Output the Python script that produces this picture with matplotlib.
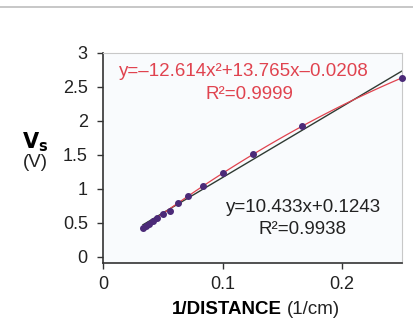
import numpy as np
import matplotlib
matplotlib.use("Agg")
import matplotlib.pyplot as plt

plt.rcParams['font.family'] = ['Liberation Sans', 'DejaVu Sans']

# 1/distance (1/cm) and measured Vs (V)
inv_dist = [0.0333, 0.0357, 0.0385, 0.0417, 0.0455, 0.0500, 0.0556,
            0.0625, 0.0714, 0.0833, 0.1000, 0.1250, 0.1667, 0.2500]
vs = [0.42, 0.45, 0.49, 0.53, 0.57, 0.63, 0.68,
      0.79, 0.90, 1.04, 1.23, 1.51, 1.92, 2.63]

# trendline coefficients
lin_coef = [10.433, 0.1243]
quad_coef = [-12.614, 13.765, -0.0208]

xticks = [0, 0.1, 0.2]
xticklabels = ['0', '0.1', '0.2']
yticks = [0, 0.5, 1, 1.5, 2, 2.5, 3]
yticklabels = ['0', '0.5', '1', '1.5', '2', '2.5', '3']

red = '#e0434f'
fs = 13.5
fig = plt.figure(figsize=(4.14, 3.2), dpi=100)
fig.add_artist(plt.Line2D([0, 1], [0.978, 0.978], color='#bdbdbd', lw=1.2))

ax = fig.add_axes([0.249, 0.178, 0.722, 0.657])
ax.set_facecolor('#f9fbfd')

xl = np.linspace(inv_dist[0], 0.25, 50)
ax.plot(xl, np.polyval(lin_coef, xl), color='#2f3a33', lw=1.0, zorder=2)
ax.plot(xl, np.polyval(quad_coef, xl), color=red, lw=0.9, zorder=3)
ax.plot(inv_dist, vs, 'o', color='#4b2a78', ms=4, zorder=4, clip_on=False)

# the x axis sits a little below y=0, as in the original
ax.set_xlim(0, 0.25)
ax.set_ylim(-0.09, 3)
ax.set_xticks(xticks)
ax.set_xticklabels(xticklabels)
ax.set_yticks(yticks)
ax.set_yticklabels(yticklabels)
ax.tick_params(labelsize=13, length=4, width=1, colors='#333333', labelcolor='#222222')
ax.tick_params(axis='x', pad=5)
ax.tick_params(axis='y', pad=7)
for s in ['top', 'right']:
    ax.spines[s].set_color('#c8c8c8')
for s in ['left', 'bottom']:
    ax.spines[s].set_color('#333333')
    ax.spines[s].set_linewidth(1.2)

ax.text(0.118, 2.73, 'y=\u201312.614x\u00b2+13.765x\u20130.0208', color=red,
        fontsize=fs, ha='center', va='center')
ax.text(0.122, 2.38, 'R\u00b2=0.9999', color=red, fontsize=fs, ha='center', va='center')
ax.text(0.168, 0.73, 'y=10.433x+0.1243', color='#222222', fontsize=fs,
        ha='center', va='center')
ax.text(0.167, 0.41, 'R\u00b2=0.9938', color='#222222', fontsize=fs,
        ha='center', va='center')

fig.text(0.085, 0.555, r'$\mathbf{V}_\mathbf{s}$', fontsize=15, ha='center', va='center')
fig.text(0.085, 0.493, '(V)', fontsize=fs, ha='center', va='center', color='#222222')

fig.text(0.681, 0.032, '1/DISTANCE', fontsize=fs, fontweight='bold', ha='right', va='center')
fig.text(0.692, 0.032, '(1/cm)', fontsize=fs, ha='left', va='center', color='#222222')

fig.savefig('out.png', dpi=100)
